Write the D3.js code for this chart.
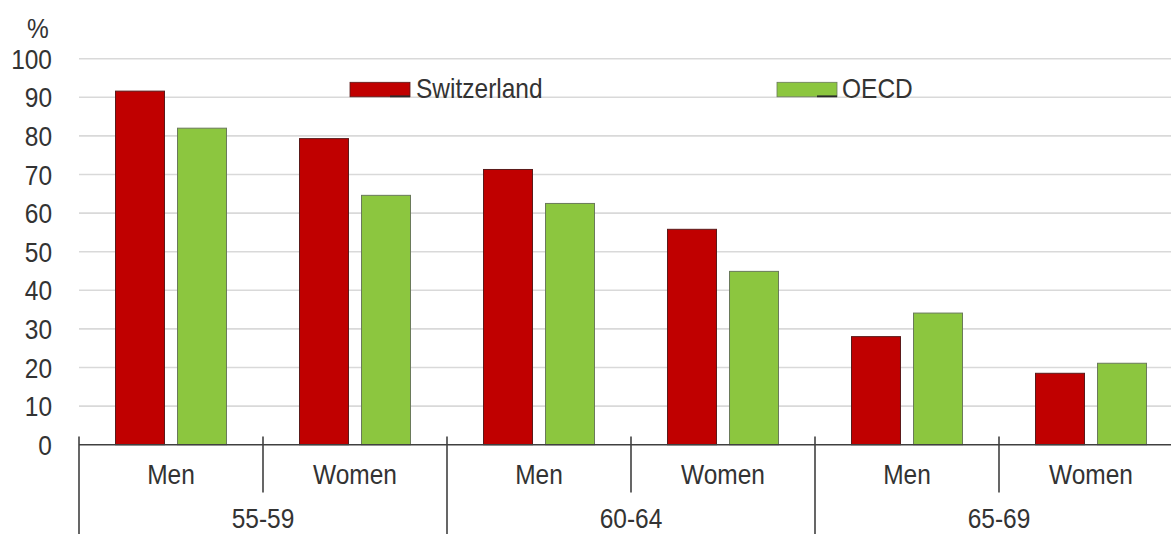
<!DOCTYPE html>
<html>
<head>
<meta charset="utf-8">
<script src="https://cdn.jsdelivr.net/npm/d3@7"></script>
<style>
  html, body { margin: 0; padding: 0; background: #fff; }
  svg { display: block; font-family: "Liberation Sans", Arial, sans-serif; }
</style>
</head>
<body>
<svg id="chart" width="1171" height="534"></svg>
<script>
// ---- data ----
const ageGroups = ["55-59", "60-64", "65-69"];
const sexes = ["Men", "Women"];
const categories = ["55-59|Men", "55-59|Women", "60-64|Men", "60-64|Women", "65-69|Men", "65-69|Women"];
const seriesNames = ["Switzerland", "OECD"];
const switzerland = [91.6, 79.3, 71.3, 55.8, 28.0, 18.5];
const oecd = [82.0, 64.6, 62.5, 44.9, 34.1, 21.1];
const yTicks = [0, 10, 20, 30, 40, 50, 60, 70, 80, 90, 100];
const colors = { "Switzerland": "#c00000", "OECD": "#8cc63f" };
const strokes = { "Switzerland": "#5a1a1a", "OECD": "#6a7a5a" };

// ---- layout ----
const svg = d3.select("#chart");
const W = 1171, H = 534;
const mLeft = 79, mRight = 1183, mTop = 58.7, mBottom = 444.7;
const textColor = "#333333";
const FS = 24.5, SY = 1.15;

const x0 = d3.scaleBand().domain(categories).range([mLeft, mRight]).padding(0);
const x1 = d3.scaleBand().domain(seriesNames).range([36.5, 147.5]).paddingInner(0.21).paddingOuter(0);
const y = d3.scaleLinear().domain([0, 100]).range([mBottom, mTop]);

function addText(g, txt, x, yb, anchor) {
  return g.append("text")
    .attr("transform", `translate(${x},${yb}) scale(1,${SY})`)
    .attr("text-anchor", anchor || "middle")
    .attr("font-size", FS)
    .attr("fill", textColor)
    .text(txt);
}

// gridlines
svg.append("g").selectAll("line").data(yTicks.filter(d => d > 0)).join("line")
  .attr("x1", mLeft).attr("x2", W)
  .attr("y1", d => y(d)).attr("y2", d => y(d))
  .attr("stroke", "#d9d9d9").attr("stroke-width", 1.6);

// y tick labels
const yl = svg.append("g");
yTicks.forEach(t => addText(yl, String(t), 52, y(t) + 10, "end"));
addText(yl, "%", 27, 38, "start");

// legend
const legendPos = [{ sx: 350, tx: 416 }, { sx: 777, tx: 842 }];
seriesNames.forEach((s, i) => {
  const lg = svg.append("g");
  lg.append("rect").attr("x", legendPos[i].sx).attr("y", 82.3).attr("width", 60).attr("height", 14.5)
    .attr("fill", colors[s]).attr("stroke", strokes[s]).attr("stroke-width", 0.8);
  lg.append("line").attr("x1", legendPos[i].sx + 40).attr("x2", legendPos[i].sx + 60)
    .attr("y1", 96.3).attr("y2", 96.3).attr("stroke", "#2a2a2a").attr("stroke-width", 1.8);
  addText(lg, s, legendPos[i].tx, 98.3, "start");
});

// bars
const values = { "Switzerland": switzerland, "OECD": oecd };
const barG = svg.append("g");
categories.forEach((c, ci) => {
  seriesNames.forEach(s => {
    const v = values[s][ci];
    barG.append("rect")
      .attr("x", x0(c) + x1(s))
      .attr("y", y(v))
      .attr("width", x1.bandwidth())
      .attr("height", y(0) - y(v))
      .attr("fill", colors[s])
      .attr("stroke", strokes[s])
      .attr("stroke-width", 1);
  });
});

// baseline axis
const ax = svg.append("g");
ax.append("line").attr("x1", mLeft).attr("x2", W).attr("y1", mBottom).attr("y2", mBottom)
  .attr("stroke", "#404040").attr("stroke-width", 1.6);

// category separators
categories.forEach((c, ci) => {
  const xx = x0(c);
  const isGroup = ci % 2 === 0;
  ax.append("line").attr("x1", xx).attr("x2", xx)
    .attr("y1", 436.5).attr("y2", isGroup ? H : 492.5)
    .attr("stroke", "#404040").attr("stroke-width", 1.6);
});
ax.append("line").attr("x1", mRight).attr("x2", mRight).attr("y1", 436.5).attr("y2", H)
  .attr("stroke", "#404040").attr("stroke-width", 1.6);

// category labels
categories.forEach(c => {
  const sex = c.split("|")[1];
  addText(ax, sex, x0(c) + x0.bandwidth() / 2, 484, "middle");
});
// group labels
ageGroups.forEach((g, gi) => {
  const cx = x0(categories[gi * 2]) + x0.bandwidth();
  addText(ax, g, cx, 528, "middle");
});
</script>
</body>
</html>
